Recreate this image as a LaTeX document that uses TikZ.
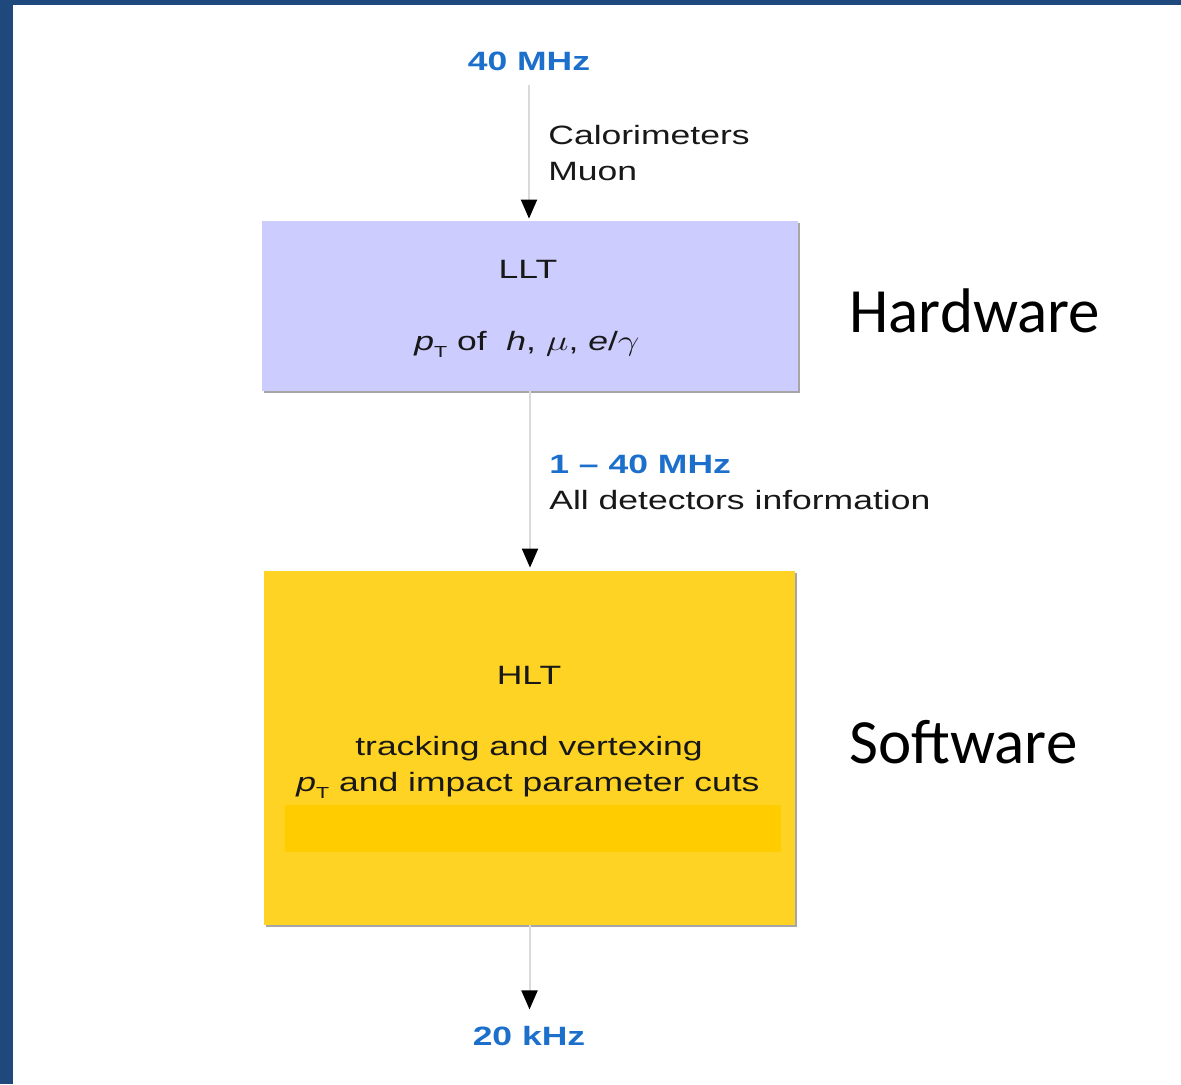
\documentclass[tikz,border=0pt]{standalone}
\usepackage{fontspec}
\setmainfont{Liberation Sans}
\newfontfamily\calibri{Carlito}
\usetikzlibrary{arrows.meta,shadows}

\definecolor{framebar}{RGB}{31,73,125}
\definecolor{rate}{RGB}{28,112,204}
\definecolor{lltfill}{RGB}{204,204,255}
\definecolor{hltfill}{RGB}{255,211,36}
\definecolor{hltband}{RGB}{255,204,0}
\definecolor{flow}{RGB}{218,218,218}
\definecolor{ink}{RGB}{24,24,24}

% diagram labels are set slightly wide
\newcommand{\widetext}[1]{\scalebox{1.34}[1]{#1}}
\newcommand{\pT}{\textit{p}\raisebox{-0.55ex}{\fontsize{8}{9}\selectfont T}}

\begin{document}
\begin{tikzpicture}[x=0.5pt,y=-0.5pt,
  lbl/.style={inner sep=0pt, font=\fontsize{13.25}{15}\selectfont, text=ink},
  ratelbl/.style={inner sep=0pt, font=\bfseries\fontsize{13.25}{15}\selectfont, text=rate},
  side/.style={inner sep=0pt, font=\calibri\fontsize{31.5}{38}\selectfont, text=black, anchor=base west},
  stage/.style={draw=none, inner sep=0pt,
    drop shadow={shadow xshift=1pt, shadow yshift=-1pt, fill=black!35, opacity=1}},
  flowline/.style={draw=flow, line width=1pt, -{Triangle[width=8pt,length=9.5pt,color=black]}}
]
\useasboundingbox (0,0) rectangle (1181,1084);
\fill[white] (0,0) rectangle (1181,1084);

% slide frame
\fill[framebar] (0,0) rectangle (13,1084);
\fill[framebar] (0,0) rectangle (1181,5);

% input rate and first-level trigger
\node[ratelbl, anchor=base] (in) at (529,70) {\widetext{40 MHz}};
\node[lbl, anchor=base west] (cal) at (548,144) {\widetext{Calorimeters}};
\node[lbl, anchor=base west] (muon) at (548,180) {\widetext{Muon}};

\node[stage, fill=lltfill, minimum width=268pt, minimum height=85pt] (llt) at (530,306) {};
\node[lbl, anchor=base] (lltname) at (528,278) {\widetext{LLT}};
\node[lbl, anchor=base] (lltcut) at (527,350) {\widetext{\pT\ of\ \ \textit{h}, $\mu$, \textit{e}/$\gamma$}};

% intermediate rate
\node[ratelbl, anchor=base west] (mid) at (549,473) {\widetext{1 -- 40 MHz}};
\node[lbl, anchor=base west] (all) at (549,509) {\widetext{All detectors information}};

% high-level trigger
\node[stage, fill=hltfill, minimum width=265.5pt, minimum height=177pt] (hlt) at (529.5,748) {};
\node[fill=hltband, minimum width=248pt, minimum height=23.5pt, inner sep=0pt] (band) at (533,828.5) {};
\node[lbl, anchor=base] (hltname) at (529,684) {\widetext{HLT}};
\node[lbl, anchor=base] (trk) at (529,755) {\widetext{tracking and vertexing}};
\node[lbl, anchor=base] (ip) at (528,791) {\widetext{\pT\ and impact parameter cuts}};

% output rate
\node[ratelbl, anchor=base] (out) at (529,1045) {\widetext{20 kHz}};

% side captions
\node[side] (hw) at (849,332) {Hardware};
\node[side] (sw) at (849,763) {Software};

% data flow
\draw[flowline, shorten <=7pt, shorten >=1pt] (in.south) -- (in.south |- llt.north);
\draw[flowline, shorten >=1.5pt] (llt.south) -- (llt.south |- hlt.north);
\draw[flowline, shorten >=8pt] (hlt.south) -- (hlt.south |- out.north);
\end{tikzpicture}
\end{document}
